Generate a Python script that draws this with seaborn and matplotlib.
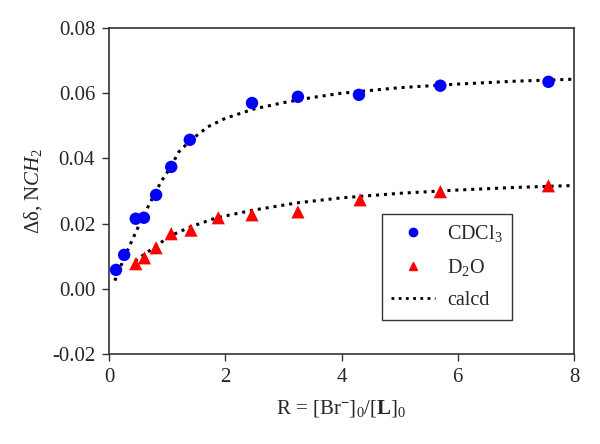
import numpy as np
import pandas as pd
import matplotlib
matplotlib.use("Agg")
import matplotlib.pyplot as plt
import seaborn as sns
from matplotlib.lines import Line2D

# ---- data ----
cdcl3_x = [0.12, 0.26, 0.46, 0.60, 0.81, 1.07, 1.39, 2.46, 3.25, 4.30, 5.70, 7.56]
cdcl3_y = [0.0058, 0.0104, 0.0215, 0.0218, 0.0288, 0.0374, 0.0457, 0.0570, 0.0589, 0.0595, 0.0623, 0.0635]

d2o_x = [0.46, 0.61, 0.81, 1.07, 1.41, 1.88, 2.46, 3.25, 4.32, 5.70, 7.56]
d2o_y = [0.0077, 0.0095, 0.0126, 0.0169, 0.0180, 0.0218, 0.0227, 0.0236, 0.0273, 0.0298, 0.0316]

calc1_x = [0.10, 0.25, 0.40, 0.55, 0.70, 0.90, 1.05, 1.20, 1.40, 1.70, 2.00, 2.50, 3.00, 3.50, 4.00, 5.00, 6.00, 7.00, 8.00]
calc1_y = [0.0025, 0.0090, 0.0150, 0.0208, 0.0262, 0.0330, 0.0370, 0.0420, 0.0455, 0.0497, 0.0523, 0.0552, 0.0571, 0.0587, 0.0600, 0.0617, 0.0628, 0.0637, 0.0643]

calc2_x = [0.45, 0.60, 0.80, 1.05, 1.40, 1.85, 2.50, 3.25, 4.00, 5.00, 6.00, 7.00, 8.00]
calc2_y = [0.0085, 0.0105, 0.0130, 0.0162, 0.0190, 0.0218, 0.0242, 0.0264, 0.0279, 0.0293, 0.0303, 0.0311, 0.0317]

x_ticks = [0, 2, 4, 6, 8]
y_ticks = [-0.02, 0.00, 0.02, 0.04, 0.06, 0.08]

sns.set_style("ticks")
plt.rcParams["font.family"] = ["Liberation Serif", "DejaVu Serif"]
plt.rcParams["mathtext.fontset"] = "custom"
plt.rcParams["mathtext.rm"] = "Liberation Serif"
plt.rcParams["mathtext.it"] = "Liberation Serif:italic"
plt.rcParams["mathtext.bf"] = "Liberation Serif:bold"
plt.rcParams["axes.unicode_minus"] = False

fig = plt.figure(figsize=(6.0, 4.44), dpi=100)
ax = fig.add_axes([0.1817, 0.2027, 0.9567 - 0.1817, 0.9369 - 0.2027])

dots = (0, (1, 1.6))
sns.lineplot(x=calc1_x, y=calc1_y, ax=ax, color="black", linestyle=dots, lw=2.2, sort=True)
sns.lineplot(x=calc2_x, y=calc2_y, ax=ax, color="black", linestyle=dots, lw=2.2, sort=True)
sns.scatterplot(x=cdcl3_x, y=cdcl3_y, ax=ax, color="#0000ff", marker="o", s=80, edgecolor="none", zorder=3)
sns.scatterplot(x=d2o_x, y=d2o_y, ax=ax, color="#ff0000", marker="^", s=90, edgecolor="none", zorder=3)

ax.set_xlim(0, 8)
ax.set_ylim(-0.02, 0.08)
ax.set_xticks(x_ticks)
ax.set_xticklabels([str(t) for t in x_ticks])
ax.set_yticks(y_ticks)
ax.set_yticklabels([f"{t:.2f}" for t in y_ticks])
ax.tick_params(axis="both", labelsize=15, direction="out", length=5, width=1, color="#333333", pad=5)
for sp in ax.spines.values():
    sp.set_color("#333333")
    sp.set_linewidth(1.2)

ax.set_xlabel(r"R = [Br$^{\mathbf{-}}$]$_0$/[$\mathbf{L}$]$_0$", fontsize=15, labelpad=8)
ax.set_ylabel(r"Δδ, N$\it{CH}_2$", fontsize=15, labelpad=6)

handles = [
    Line2D([], [], color="#0000ff", marker="o", linestyle="none", markersize=6),
    Line2D([], [], color="#ff0000", marker="^", linestyle="none", markersize=6),
    Line2D([], [], color="black", linestyle=dots, lw=2.0),
]
labels = [r"CDCl$_3$", r"D$_2$O", "calcd"]
leg = ax.legend(handles, labels, loc="upper left", bbox_to_anchor=(0.587, 0.429),
                borderaxespad=0, fontsize=14.5, frameon=True, fancybox=False,
                handlelength=2.2, handletextpad=0.6, labelspacing=0.65, borderpad=0.45)
leg.get_frame().set_edgecolor("black")
leg.get_frame().set_linewidth(1.0)

fig.savefig("out.png", dpi=100)
